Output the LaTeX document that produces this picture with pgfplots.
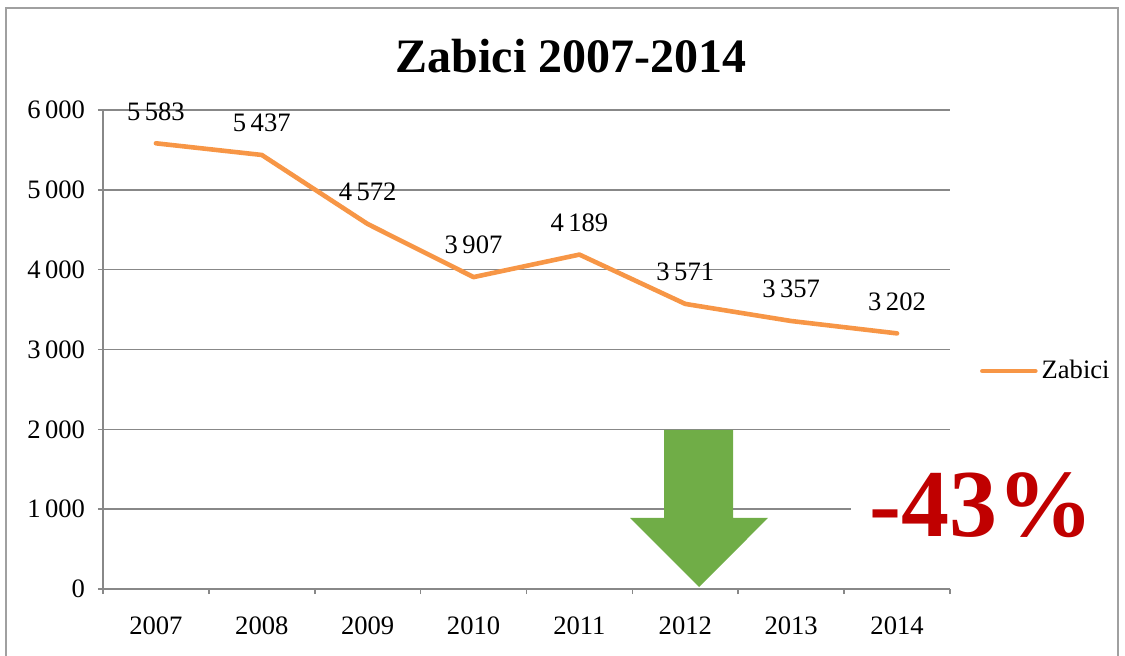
\documentclass[border=0pt]{standalone}
\usepackage{pgfplots}
\pgfplotsset{compat=1.18}
\usepackage{fontspec}
\setmainfont{Liberation Serif}
\definecolor{lineorange}{HTML}{F79646}
\definecolor{arrowgreen}{HTML}{70AD47}
\definecolor{darkred}{HTML}{C00000}
\definecolor{gridgray}{HTML}{888888}
\definecolor{framegray}{HTML}{A0A0A0}
\begin{document}
\begin{tikzpicture}
\draw[framegray, line width=0.8pt] (-48.5pt,-45pt) -- (-48.5pt,290.5pt) -- (507.5pt,290.5pt) -- (507.5pt,-45pt);
\begin{axis}[
  at={(0,0)}, anchor=south west,
  scale only axis, width=423.5pt, height=239.5pt,
  xmin=-0.5, xmax=7.5, ymin=0, ymax=6000,
  axis x line*=bottom, axis y line*=left,
  axis line style={gridgray, line width=0.8pt, -},
  xtick={0,...,7},
  xticklabels={2007,2008,2009,2010,2011,2012,2013,2014},
  major x tick style={draw=none},
  minor xtick={-0.5,0.5,...,7.5},
  ytick={0,1000,...,6000},
  tick align=outside,
  major tick length=2.5pt, minor tick length=2.5pt,
  tick style={gridgray, line width=0.8pt},
  ymajorgrids, grid style={gridgray, line width=0.8pt},
  /pgf/number format/.cd, 1000 sep={\,}, assume math mode=true,
  /pgfplots/.cd,
  tick label style={font=\fontsize{13.3}{15}\selectfont, black},
  xticklabel style={yshift=-8pt},
  yticklabel style={xshift=-3pt},
  legend style={draw=none, fill=none, at={(1.035,0.455)}, anchor=west,
    font=\fontsize{13.3}{15}\selectfont, inner sep=0pt,
    legend cell align=left},
  legend image code/.code={\draw[#1, line cap=round] (0pt,0pt) -- (26.5pt,0pt);},
  nodes near coords={\pgfmathprintnumber{\pgfplotspointmeta}},
  every node near coord/.append style={font=\fontsize{13.3}{15}\selectfont, black, anchor=center, yshift=16pt},
]
\addplot[lineorange, line width=2.3pt, line join=round, line cap=round] coordinates {
 (0,5583) (1,5437) (2,4572) (3,3907) (4,4189) (5,3571) (6,3357) (7,3202)
};
\addlegendentry{Zabici}
\addplot[fill=arrowgreen, draw=none, forget plot, nodes near coords={}] coordinates {
 (4.799,1992) (5.451,1992) (5.451,890) (5.781,890) (5.13,25) (4.478,890) (4.799,890) (4.799,1992)
} -- cycle;
\end{axis}
\node[anchor=base west, fill=white, inner xsep=9pt, inner ysep=2pt, text=darkred, font=\fontsize{48}{50}\selectfont\bfseries] at (374pt,26.5pt) {-43\%};
\node[anchor=base, font=\fontsize{24}{28}\selectfont\bfseries] at (234pt,258.5pt) {Zabici 2007-2014};
\pgfresetboundingbox
\useasboundingbox (-51.5pt,-33pt) rectangle (511pt,294.5pt);
\end{tikzpicture}
\end{document}
